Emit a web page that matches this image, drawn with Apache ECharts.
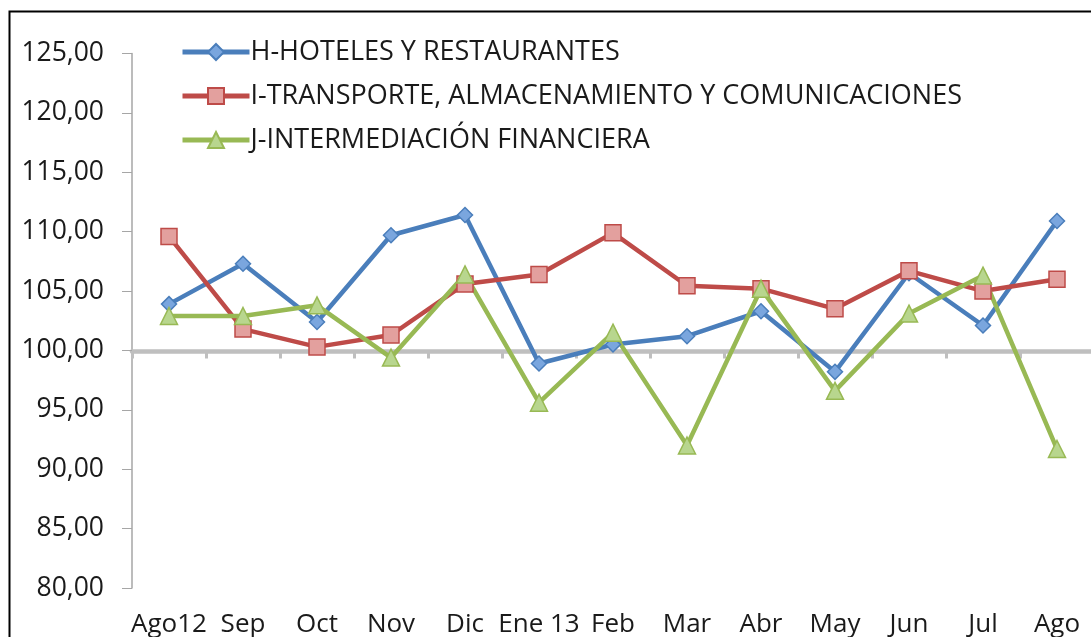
<!DOCTYPE html>
<html>
<head>
<meta charset="utf-8">
<script src="https://cdn.jsdelivr.net/npm/echarts@6/dist/echarts.min.js"></script>
<style>
html,body{margin:0;padding:0;background:#fff;}
#chart{width:1091px;height:637px;}
</style>
</head>
<body>
<div id="chart"></div>
<script>
const categories = ['Ago12', 'Sep', 'Oct', 'Nov', 'Dic', 'Ene 13', 'Feb', 'Mar', 'Abr', 'May', 'Jun', 'Jul', 'Ago'];
const seriesNames = ['H-HOTELES Y RESTAURANTES', 'I-TRANSPORTE, ALMACENAMIENTO Y COMUNICACIONES', 'J-INTERMEDIACIÓN FINANCIERA'];
const hoteles = [103.9, 107.3, 102.4, 109.7, 111.4, 98.9, 100.5, 101.2, 103.3, 98.2, 106.5, 102.1, 110.9];
const transporte = [109.6, 101.8, 100.3, 101.3, 105.6, 106.4, 109.9, 105.45, 105.2, 103.5, 106.7, 105.0, 106.0];
const financiera = [102.9, 102.9, 103.8, 99.4, 106.4, 95.6, 101.5, 92.0, 105.2, 96.6, 103.1, 106.3, 91.7];
const yTickLabels = ['80,00', '85,00', '90,00', '95,00', '100,00', '105,00', '110,00', '115,00', '120,00', '125,00'];

const FONT = 'Open Sans';
const chart = echarts.init(document.getElementById('chart'), null, {renderer: 'canvas'});

const option = {
  animation: false,
  backgroundColor: '#ffffff',
  graphic: [{
    type: 'rect',
    shape: {x: 9.5, y: 11.5, width: 1200, height: 800},
    style: {fill: 'none', stroke: '#000', lineWidth: 2},
    silent: true, z: 0
  }],
  grid: {left: 132, top: 53.5, width: 962, height: 534.5, containLabel: false, outerBoundsMode: 'none'},
  legend: {
    orient: 'vertical',
    left: 175,
    top: 33,
    itemWidth: 67,
    itemHeight: 20,
    itemGap: 16,
    lineStyle: {width: 5},
    textStyle: {fontFamily: FONT, fontSize: 27, color: '#1a1a1a', lineHeight: 28, padding: [0,0,0,-4]},
    data: seriesNames
  },
  xAxis: [{
    type: 'category',
    data: categories,
    boundaryGap: true,
    position: 'bottom',
    axisLine: {show: false},
    axisTick: {show: false},
    axisLabel: {fontFamily: FONT, fontSize: 26, color: '#1a1a1a', margin: 22, interval: 0, lineHeight: 30}
  }, {
    type: 'category',
    data: categories,
    boundaryGap: true,
    position: 'top',
    offset: -298,
    axisLine: {show: true, lineStyle: {color: '#bfbfbf', width: 4.5}},
    axisTick: {show: true, inside: true, length: 7, lineStyle: {color: '#bfbfbf', width: 3}},
    axisLabel: {show: false},
    splitLine: {show: false}
  }],
  yAxis: {
    type: 'value',
    min: 80, max: 125, interval: 5,
    axisLine: {show: true, lineStyle: {color: '#a6a6a6', width: 1.5}},
    axisTick: {show: true, length: 10, lineStyle: {color: '#a6a6a6', width: 1}},
    splitLine: {show: false},
    axisLabel: {
      fontFamily: FONT, fontSize: 26.5, color: '#1a1a1a', margin: 28,
      formatter: function (v) { return yTickLabels[Math.round((v - 80) / 5)]; }
    }
  },
  series: [{
    name: seriesNames[0], type: 'line', data: hoteles, xAxisIndex: 0,
    symbol: 'diamond', symbolSize: 15,
    lineStyle: {color: '#4a7ebb', width: 4.5},
    itemStyle: {color: '#7aa6de', borderColor: '#4a7ebb', borderWidth: 1.5}
  }, {
    name: seriesNames[1], type: 'line', data: transporte, xAxisIndex: 0,
    symbol: 'rect', symbolSize: 16,
    lineStyle: {color: '#be4b48', width: 4.5},
    itemStyle: {color: '#e3a09e', borderColor: '#be4b48', borderWidth: 1.5}
  }, {
    name: seriesNames[2], type: 'line', data: financiera, xAxisIndex: 0,
    symbol: 'triangle', symbolSize: 17,
    lineStyle: {color: '#98b954', width: 4.5},
    itemStyle: {color: '#b8d68e', borderColor: '#98b954', borderWidth: 1.5}
  }]
};
chart.setOption(option);
</script>
</body>
</html>
